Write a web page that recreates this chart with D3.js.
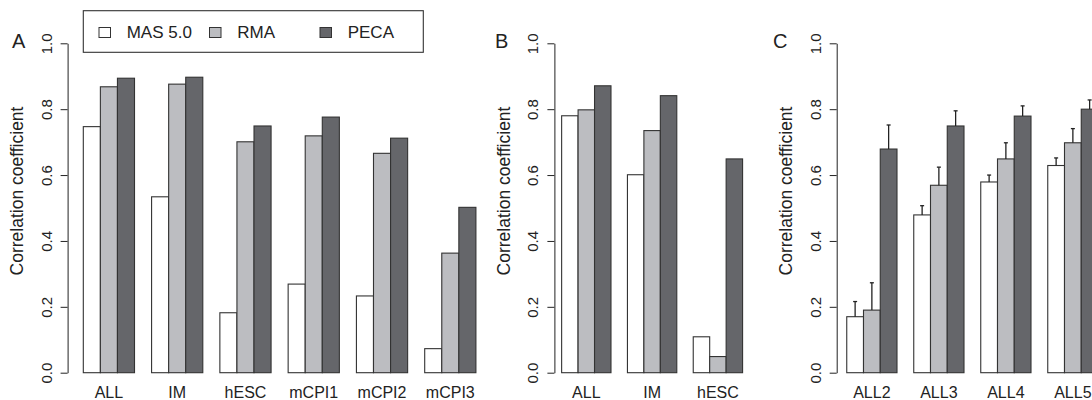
<!DOCTYPE html>
<html>
<head>
<meta charset="utf-8">
<script src="https://cdn.jsdelivr.net/npm/d3@7"></script>
<style>
  html, body { margin: 0; padding: 0; background: #fff; }
  svg { display: block; font-family: "Liberation Sans", Arial, Helvetica, sans-serif; }
</style>
</head>
<body>
<svg id="chart" width="1092" height="400"></svg>
<script>
// series
const seriesNames = ['MAS 5.0', 'RMA', 'PECA'];
const seriesFill = ['#ffffff', '#bcbdc1', '#65666a'];

// panel A
const catsA = ['ALL', 'IM', 'hESC', 'mCPI1', 'mCPI2', 'mCPI3'];
const masA  = [0.747, 0.534, 0.182, 0.269, 0.233, 0.073];
const rmaA  = [0.868, 0.876, 0.701, 0.719, 0.666, 0.363];
const pecaA = [0.894, 0.897, 0.749, 0.776, 0.712, 0.502];

// panel B
const catsB = ['ALL', 'IM', 'hESC'];
const masB  = [0.780, 0.601, 0.109];
const rmaB  = [0.798, 0.735, 0.049];
const pecaB = [0.871, 0.841, 0.649];

// panel C (with upper error bars)
const catsC = ['ALL2', 'ALL3', 'ALL4', 'ALL5'];
const masC  = [0.170, 0.479, 0.579, 0.629];
const rmaC  = [0.190, 0.569, 0.649, 0.698];
const pecaC = [0.679, 0.749, 0.779, 0.800];
const masErrC  = [0.046, 0.028, 0.021, 0.023];
const rmaErrC  = [0.083, 0.055, 0.049, 0.043];
const pecaErrC = [0.073, 0.046, 0.031, 0.028];

const yTicks = [0, 0.2, 0.4, 0.6, 0.8, 1.0];

const svg = d3.select('#chart');
const y = d3.scaleLinear().domain([0, 1]).range([372.7, 43.3]);

function drawPanel(p) {
  const n = p.cats.length;
  // mimic R barplot: groups of 3 bars, one bar-width gap, 4% axis extension
  const x0 = d3.scaleBand()
    .domain(p.cats)
    .range([p.left, p.left + (4 * n - 1) * 1.08 * p.unit])
    .paddingInner(0.25)
    .paddingOuter(0.01 * (4 * n - 1));
  const x1 = d3.scaleBand()
    .domain(seriesNames)
    .range([0, x0.bandwidth()]);

  const g = svg.append('g');

  const rows = [];
  p.cats.forEach((c, i) => {
    seriesNames.forEach((s, j) => {
      rows.push({
        cat: c, s: s, j: j,
        v: p.values[j][i],
        err: p.errs ? p.errs[j][i] : null
      });
    });
  });

  g.selectAll('rect.bar')
    .data(rows)
    .enter()
    .append('rect')
    .attr('class', 'bar')
    .attr('x', d => x0(d.cat) + x1(d.s))
    .attr('y', d => y(d.v))
    .attr('width', x1.bandwidth())
    .attr('height', d => y(0) - y(d.v))
    .attr('fill', d => seriesFill[d.j])
    .attr('stroke', '#333')
    .attr('stroke-width', 1.1);

  if (p.errs) {
    const eb = g.selectAll('g.err')
      .data(rows)
      .enter()
      .append('g')
      .attr('class', 'err')
      .attr('stroke', '#222')
      .attr('stroke-width', 1.3);
    eb.append('line')
      .attr('x1', d => x0(d.cat) + x1(d.s) + x1.bandwidth() / 2)
      .attr('x2', d => x0(d.cat) + x1(d.s) + x1.bandwidth() / 2)
      .attr('y1', d => y(d.v))
      .attr('y2', d => y(d.v + d.err));
    eb.append('line')
      .attr('x1', d => x0(d.cat) + x1(d.s) + x1.bandwidth() / 2 - 2)
      .attr('x2', d => x0(d.cat) + x1(d.s) + x1.bandwidth() / 2 + 2)
      .attr('y1', d => y(d.v + d.err))
      .attr('y2', d => y(d.v + d.err));
  }

  // y axis
  const ax = g.append('g')
    .attr('transform', `translate(${p.left},0)`)
    .call(d3.axisLeft(y).tickValues(yTicks).tickFormat(d3.format('.1f')).tickSize(7).tickSizeOuter(0));
  ax.select('.domain').attr('stroke', '#222');
  ax.selectAll('.tick line').attr('stroke', '#222');
  ax.selectAll('.tick text')
    .attr('transform', 'rotate(-90)')
    .attr('x', 0)
    .attr('y', -16)
    .attr('dy', 0)
    .attr('text-anchor', 'middle')
    .attr('fill', '#222')
    .style('font-size', '15px')
    .style('font-family', '"Liberation Sans", Arial, sans-serif');

  // y label
  g.append('text')
    .attr('transform', `translate(${p.left - 44.4},191) rotate(-90)`)
    .attr('text-anchor', 'middle')
    .attr('fill', '#222')
    .style('font-size', '17.5px')
    .text('Correlation coefficient');

  // category labels
  g.selectAll('text.cat')
    .data(p.cats)
    .enter()
    .append('text')
    .attr('class', 'cat')
    .attr('x', d => x0(d) + x0.bandwidth() / 2)
    .attr('y', 397.5)
    .attr('text-anchor', 'middle')
    .attr('fill', '#222')
    .style('font-size', '16px')
    .text(d => d);

  // panel letter
  g.append('text')
    .attr('x', p.letterX)
    .attr('y', 48)
    .attr('fill', '#222')
    .style('font-size', '20px')
    .text(p.letter);
}

drawPanel({ letter: 'A', letterX: 12, left: 67.6, unit: 17.07, cats: catsA, values: [masA, rmaA, pecaA] });
drawPanel({ letter: 'B', letterX: 495, left: 554.4, unit: 16.45, cats: catsB, values: [masB, rmaB, pecaB] });
drawPanel({ letter: 'C', letterX: 773, left: 836.7, unit: 16.75, cats: catsC, values: [masC, rmaC, pecaC],
  errs: [masErrC, rmaErrC, pecaErrC] });

// legend (panel A)
const legend = svg.append('g');
legend.append('rect')
  .attr('x', 83.3).attr('y', 10.7)
  .attr('width', 340).attr('height', 41.6)
  .attr('fill', '#fff')
  .attr('stroke', '#333')
  .attr('stroke-width', 1.1);

const lx = d3.scaleLinear().domain([0, 2]).range([99, 320]);
const items = legend.selectAll('g.item')
  .data(seriesNames)
  .enter()
  .append('g')
  .attr('class', 'item')
  .attr('transform', (d, i) => `translate(${lx(i)},0)`);
items.append('rect')
  .attr('x', 0).attr('y', 27.5)
  .attr('width', 11.5).attr('height', 10)
  .attr('fill', (d, i) => seriesFill[i])
  .attr('stroke', '#333')
  .attr('stroke-width', 1);
items.append('text')
  .attr('x', 27.7)
  .attr('y', 38.3)
  .attr('fill', '#222')
  .style('font-size', '17px')
  .text(d => d);
</script>
</body>
</html>
